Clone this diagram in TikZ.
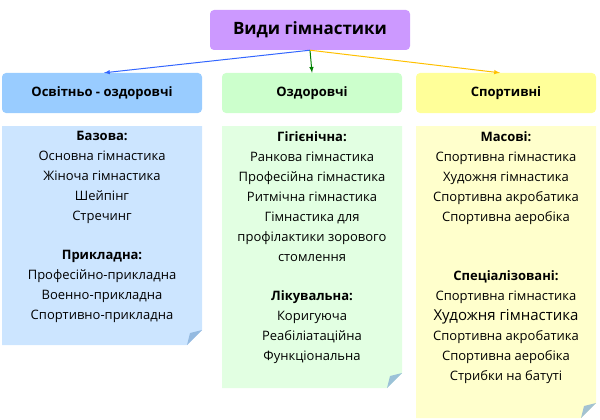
\documentclass[tikz,border=0pt]{standalone}
\usepackage{fontspec}
\setmainfont{Open Sans}
\usetikzlibrary{positioning}
\definecolor{lila}{HTML}{CC99FF}
\definecolor{blau}{HTML}{99CCFF}
\definecolor{blault}{HTML}{CCE5FF}
\definecolor{gruen}{HTML}{CCFFCC}
\definecolor{gruenlt}{HTML}{E2FFE2}
\definecolor{gelb}{HTML}{FFFF99}
\definecolor{gelblt}{HTML}{FFFFCC}
\tikzset{
  head/.style={rounded corners=4pt, minimum height=40pt, font=\fontsize{13}{15}\selectfont\bfseries},
  body/.style={align=center, anchor=north, font=\fontsize{13}{20}\selectfont},
  arr/.style={-latex, line width=1pt}
}
\newcommand{\panel}[4]{% x1,x2,ybottom,colour
  \fill[#4] (#1,-126) -- (#2,-126) -- (#2,-#3+15) -- (#2-15,-#3) -- (#1,-#3) -- cycle;
  \fill[#4!70!black!40!blau] (#2,-#3+15) -- (#2-15,-#3) -- (#2-12,-#3+12) -- cycle;
}
\begin{document}
\begin{tikzpicture}[x=1pt,y=1pt]
\useasboundingbox (0,0) rectangle (600,-420);
\node (top) [head, fill=lila, minimum width=200pt, font=\fontsize{17}{19}\selectfont\bfseries] at (310,-30) {Види гімнастики};
\node (osv) [head, fill=blau, minimum width=200pt] at (102,-93) {Освітньо - оздоровчі};
\node (ozd) [head, fill=gruen, minimum width=180pt] at (312,-93) {Оздоровчі};
\node (spo) [head, fill=gelb, minimum width=180pt] at (506,-93) {Спортивні};
\draw[arr, draw={rgb,255:red,51;green,102;blue,255}] (top.south) -- ([xshift=2pt]osv.north);
\draw[arr, draw={rgb,255:red,0;green,128;blue,0}] (top.south) -- (ozd.north);
\draw[arr, draw={rgb,255:red,255;green,192;blue,0}] (top.south) -- ([xshift=-6pt]spo.north);
% panels
\panel{2}{202}{345}{blault}
\panel{222}{402}{388}{gruenlt}
\panel{416}{596}{418}{gelblt}
\node (tosv) [body] at (102,-128) {\textbf{Базова:}\\Основна гімнастика\\Жіноча гімнастика\\Шейпінг\\Стречинг\\[19pt]\textbf{Прикладна:}\\Професійно-прикладна\\Военно-прикладна\\Спортивно-прикладна};
\node (tozd) [body] at (312,-128) {\textbf{Гігієнічна:}\\Ранкова гімнастика\\Професійна гімнастика\\Ритмічна гімнастика\\Гімнастика для\\профілактики зорового\\стомлення\\[19pt]\textbf{Лікувальна:}\\Коригуюча\\Реабіліатаційна\\Функціональна};
\node (tspo) [body] at (506,-128) {\textbf{Масові:}\\Спортивна гімнастика\\Художня гімнастика\\Спортивна акробатика\\Спортивна аеробіка\\[39pt]\textbf{Спеціалізовані:}\\Спортивна гімнастика\\{\fontsize{15}{20}\selectfont Художня гімнастика}\\Спортивна акробатика\\Спортивна аеробіка\\Стрибки на батуті};
\end{tikzpicture}
\end{document}
